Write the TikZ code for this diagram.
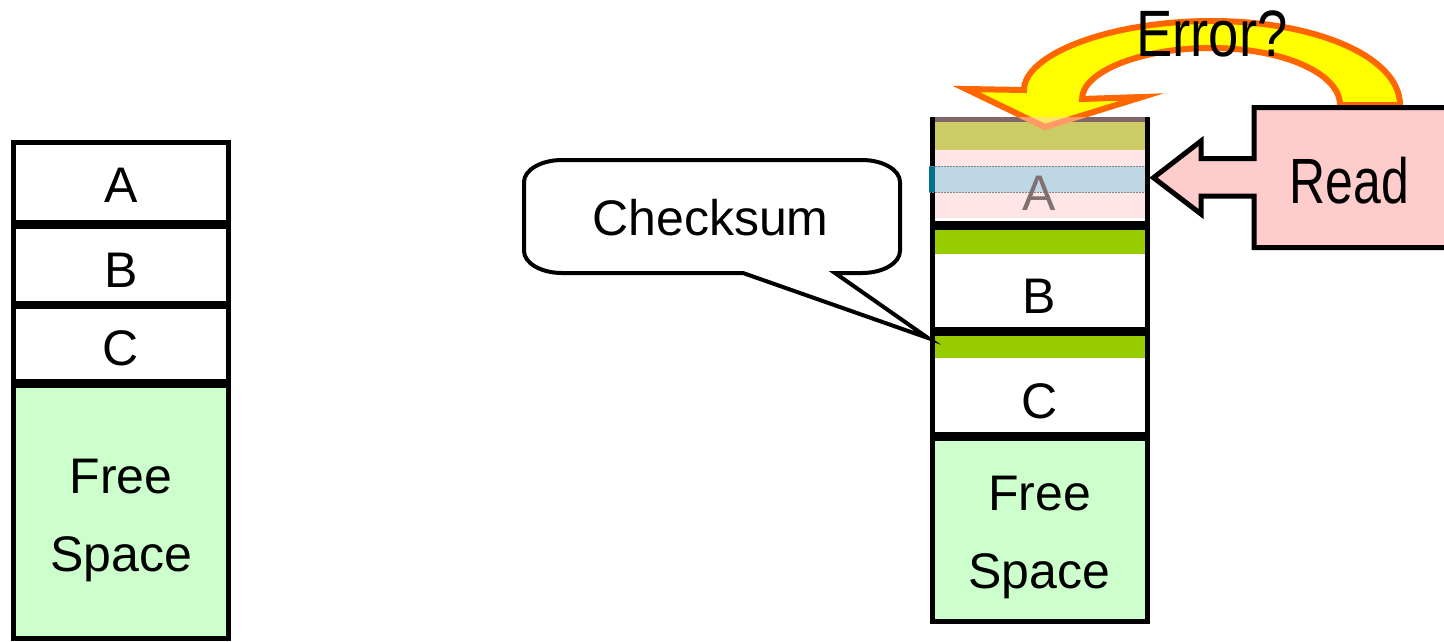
\documentclass[tikz,border=0pt]{standalone}
\usepackage{fontspec}
\setmainfont{Liberation Sans}
\newfontfamily\readfont[FakeStretch=0.78]{Liberation Sans}
\newfontfamily\errfont[FakeStretch=0.83]{Liberation Sans}
\definecolor{freegreen}{HTML}{CCFFCC}
\definecolor{chkgreen}{HTML}{99CC00}
\definecolor{readpink}{HTML}{FFCCCC}
\definecolor{arrowyellow}{HTML}{FFFF00}
\definecolor{arroworange}{HTML}{FF6600}
\definecolor{bandblue}{HTML}{BDD7E4}
\definecolor{bandteal}{HTML}{00708C}
\definecolor{agray}{HTML}{807070}
\begin{document}
\begin{tikzpicture}[x=1pt,y=-1pt,
  blk/.style={draw=black,line width=5pt,fill=white},
  lbl/.style={anchor=base,font=\fontsize{50}{60}\selectfont,inner sep=0pt}]
\clip (0,0) rectangle (1444,641);
\fill[white] (0,0) rectangle (1444,641);

% ---- layout before the checksums ----
\draw[blk] (13.3,142) rectangle (228.5,222);
\draw[blk] (13.3,226) rectangle (228.5,303);
\draw[blk] (13.3,306) rectangle (228.5,381);
\draw[blk,fill=freegreen] (13.3,385) rectangle (228.5,638);
\node[lbl] (la) at (121,202) {A};
\node[lbl] (lb) at (121,287) {B};
\node[lbl] (lc) at (121,365) {C};
\node[lbl] (lfree) at (121,493) {Free};
\node[lbl] (lspace) at (121,571) {Space};

% ---- layout with a checksum per block ----
\draw[blk] (932,119.5) rectangle (1147,223);
\draw[blk] (932,227) rectangle (1147,329);
\draw[blk] (932,333) rectangle (1147,434);
\draw[blk,fill=freegreen] (932,438) rectangle (1147,621.5);
\fill[chkgreen] (934.5,122) rectangle (1144.5,150);
\fill[chkgreen] (934.5,229.5) rectangle (1144.5,254);
\fill[chkgreen] (934.5,335.5) rectangle (1144.5,358);
\node[lbl] (rb) at (1039.5,313) {B};
\node[lbl] (rc) at (1039.5,418) {C};
\node[lbl] (rfree) at (1039.5,510) {Free};
\node[lbl] (rspace) at (1039.5,588) {Space};

% curved "error" arrow from the read back onto block A
\draw[line width=6pt,draw=arroworange,fill=arrowyellow,line join=miter]
  (1400,105) .. controls (1400,57) and (1316,21) .. (1212,21)
  .. controls (1108,21) and (1024,55) .. (1024,90)
  -- (966,89) -- (1045,127) -- (1142,97) -- (1082,99)
  .. controls (1082,72) and (1140,48) .. (1211,48)
  .. controls (1282,48) and (1340,73) .. (1340,105) -- cycle;

% block A is highlighted as the one being read
\fill[readpink,opacity=0.5] (934.5,117) rectangle (1144.5,218);
\fill[bandblue] (934.5,166) rectangle (1144.5,192);
\fill[bandteal] (929,166) rectangle (934.5,192);
\draw[gray,line width=0.8pt,dash pattern=on 1.5pt off 1.5pt] (929,166) -- (1145,166);
\draw[gray,line width=0.8pt,dash pattern=on 1.5pt off 1.5pt] (929,192) -- (1145,192);
\node[lbl,text=agray] (ra) at (1039.5,210) {A};

% checksum callout
\draw[line width=4pt,fill=white,line join=miter]
  (562,160) -- (862,160) .. controls (883,160) and (900,170) .. (900,182)
  -- (900,251) .. controls (900,263) and (883,273) .. (862,273)
  -- (835,273) -- (928,338) -- (743,273) -- (562,273)
  .. controls (541,273) and (524,263) .. (524,251)
  -- (524,182) .. controls (524,170) and (541,160) .. (562,160) -- cycle;
\node[lbl] (chk) at (710.5,235) {Checksum};

% read request
\draw[line width=5pt,fill=readpink,line join=miter]
  (1254,107.5) -- (1470,107.5) -- (1470,247.5) -- (1254,247.5)
  -- (1254,196) -- (1201,196) -- (1201,214) -- (1153.5,177.7)
  -- (1201,141) -- (1201,158.7) -- (1254,158.7) -- cycle;
\node[anchor=base,inner sep=0pt,font=\readfont\fontsize{64}{70}\selectfont] (read) at (1349.5,203) {Read};

\node[anchor=base,inner sep=0pt,font=\errfont\fontsize{65.6}{70}\selectfont] (err) at (1212,56.7) {Error?};
\end{tikzpicture}
\end{document}
